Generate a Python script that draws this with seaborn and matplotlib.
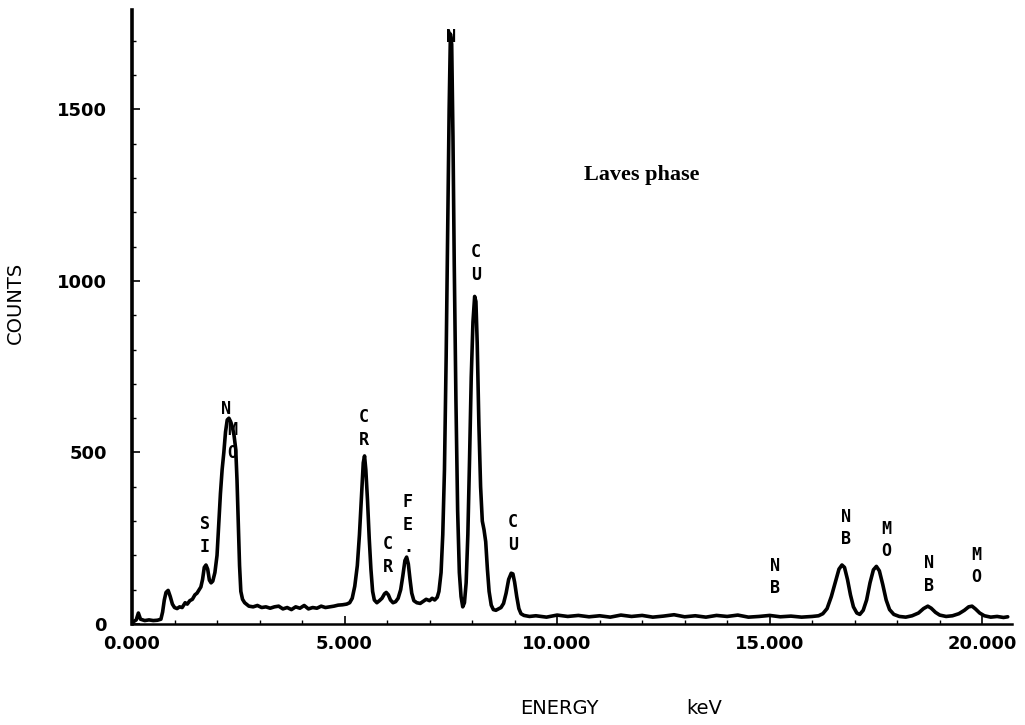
import matplotlib
matplotlib.use("Agg")
import matplotlib.pyplot as plt
from matplotlib.ticker import MultipleLocator
import seaborn as sns
import pandas as pd

# ---- data ----
energy_kev = [
    0.00, 0.05, 0.10, 0.15, 0.20, 0.30, 0.40, 0.50, 0.60, 0.68, 0.72, 0.76, 0.80, 0.85, 0.90, 0.95,
    1.00, 1.06, 1.12, 1.18, 1.25, 1.30, 1.36, 1.42, 1.48, 1.53, 1.58, 1.62, 1.66, 1.70, 1.74, 1.78,
    1.82, 1.86, 1.90, 1.95, 2.00, 2.04, 2.08, 2.12, 2.16, 2.20, 2.24, 2.28, 2.32, 2.36, 2.40, 2.44,
    2.47, 2.50, 2.53, 2.56, 2.60, 2.65, 2.75, 2.85, 2.95, 3.05, 3.15, 3.25, 3.35, 3.45, 3.55, 3.65, 3.75,
    3.85, 3.95, 4.05, 4.15, 4.25, 4.35, 4.45, 4.55, 4.65, 4.75, 4.85, 4.95, 5.05, 5.12, 5.18, 5.24,
    5.30, 5.35, 5.40, 5.44, 5.47, 5.50, 5.54, 5.58, 5.62, 5.66, 5.70, 5.76, 5.82, 5.88, 5.94, 5.98,
    6.03, 6.08, 6.14, 6.20, 6.26, 6.32, 6.37, 6.42, 6.46, 6.50, 6.54, 6.58, 6.63, 6.70, 6.78, 6.85,
    6.92, 7.00, 7.06, 7.12, 7.18, 7.22, 7.27, 7.31, 7.35, 7.39, 7.43, 7.46, 7.49, 7.52, 7.55, 7.58,
    7.62, 7.66, 7.70, 7.74, 7.78, 7.82, 7.86, 7.90, 7.94, 7.98, 8.02, 8.06, 8.09, 8.12, 8.16, 8.20,
    8.24, 8.28, 8.32, 8.36, 8.40, 8.45, 8.50, 8.56, 8.62, 8.68, 8.74, 8.80, 8.86, 8.92, 8.96, 9.00,
    9.05, 9.10, 9.15, 9.22, 9.35, 9.50, 9.75, 10.00, 10.25, 10.50, 10.75, 11.00, 11.25, 11.50, 11.75,
    12.00, 12.25, 12.50, 12.75, 13.00, 13.25, 13.50, 13.75, 14.00, 14.25, 14.50, 14.75, 15.00, 15.25,
    15.50, 15.75, 16.00, 16.15, 16.25, 16.35, 16.45, 16.55, 16.63, 16.70, 16.76, 16.83, 16.90, 16.97,
    17.05, 17.12, 17.20, 17.28, 17.36, 17.44, 17.51, 17.58, 17.66, 17.74, 17.82, 17.92, 18.05, 18.20,
    18.35, 18.50, 18.62, 18.72, 18.80, 18.90, 19.00, 19.15, 19.30, 19.45, 19.58, 19.68, 19.76, 19.84,
    19.94, 20.05, 20.20, 20.35, 20.50, 20.60,
]
counts = [
    5, 8, 12, 32, 14, 10, 12, 10, 11, 14, 35, 70, 92, 98, 80, 58,
    48, 45, 50, 48, 62, 58, 68, 72, 85, 90, 100, 108, 130, 165, 172, 160,
    128, 120, 125, 150, 200, 290, 380, 450, 500, 560, 595, 600, 590, 575, 550, 510,
    420, 300, 170, 95, 72, 62, 52, 50, 54, 48, 50, 46, 50, 52, 44, 48, 42,
    50, 46, 54, 44, 48, 46, 52, 48, 50, 52, 55, 56, 58, 62, 75, 110,
    170, 260, 380, 470, 490, 450, 360, 250, 160, 95, 70, 62, 68, 75, 88, 92,
    85, 70, 62, 65, 75, 100, 140, 185, 195, 175, 130, 90, 68, 62, 60, 66,
    72, 68, 75, 70, 78, 95, 150, 260, 450, 780, 1180, 1500, 1720, 1690, 1420, 1050,
    650, 330, 150, 80, 50, 62, 120, 260, 480, 720, 880, 955, 940, 820, 580, 400,
    300, 275, 240, 160, 95, 55, 42, 40, 44, 48, 60, 90, 130, 148, 146, 122,
    80, 45, 30, 25, 22, 24, 20, 26, 22, 25, 21, 24, 20, 26, 22,
    25, 20, 23, 27, 21, 24, 20, 25, 22, 26, 20, 22, 25, 21,
    23, 20, 22, 24, 30, 45, 80, 125, 160, 172, 165, 130, 85, 50,
    32, 28, 40, 70, 120, 158, 168, 155, 115, 70, 42, 28, 22, 20,
    24, 32, 45, 52, 46, 34, 26, 22, 24, 30, 40, 50, 52, 44,
    32, 24, 20, 22, 19, 21,
]

peak_labels = ["S\nI", "N", "M\nO", "C\nR", "C\nR", "F\nE\n.", "N", "C\nU", "C\nU",
               "N\nB", "N\nB", "M\nO", "N\nB", "M\nO"]
peak_label_x = [1.72, 2.21, 2.36, 5.46, 6.02, 6.49, 7.51, 8.09, 8.96,
                15.13, 16.80, 17.74, 18.75, 19.86]
peak_label_y = [259, 627, 533, 571, 201, 290, 1712, 1052, 265,
                137, 280, 245, 143, 169]

x_ticks = [0, 5, 10, 15, 20]
x_tick_labels = ["0.000", "5.000", "10.000", "15.000", "20.000"]
y_ticks = [0, 500, 1000, 1500]
y_tick_labels = ["0", "500", "1000", "1500"]

df = pd.DataFrame({"energy": energy_kev, "counts": counts})

sns.set_theme(style="ticks")
plt.rcParams["font.family"] = ["DejaVu Sans"]

fig = plt.figure(figsize=(10.25, 7.25), dpi=100)
W, H = 1025, 725
ax = fig.add_axes([132 / W, 1 - 624 / H, (1012 - 132) / W, (624 - 10) / H])

sns.lineplot(data=df, x="energy", y="counts", ax=ax, color="black",
             linewidth=2.6, errorbar=None, sort=False)

ax.set_xlim(0, 20.7)
ax.set_ylim(0, 1790)
sns.despine(ax=ax)
ax.spines["left"].set_linewidth(2.6)
ax.spines["bottom"].set_linewidth(1.8)
ax.spines["left"].set_color("black")
ax.spines["bottom"].set_color("black")

ax.set_xticks(x_ticks)
ax.set_xticklabels(x_tick_labels, fontsize=13, fontweight="bold")
ax.set_yticks(y_ticks)
ax.set_yticklabels(y_tick_labels, fontsize=13, fontweight="bold")
ax.xaxis.set_minor_locator(MultipleLocator(1))
ax.yaxis.set_minor_locator(MultipleLocator(100))
ax.tick_params(axis="both", which="major", direction="in", length=6, width=1.2,
               color="black", labelcolor="black")
ax.tick_params(axis="both", which="minor", direction="in", length=3, width=1.0,
               color="black")
ax.tick_params(axis="x", which="major", pad=8)
ax.tick_params(axis="y", which="major", pad=18)

ax.set_xlabel("")
ax.set_ylabel("COUNTS", fontsize=14, color="black")
ax.yaxis.set_label_coords(-0.122, 0.523)

ax.text(0.486, -0.137, "ENERGY", transform=ax.transAxes, fontsize=14,
        ha="center", va="center", color="black")
ax.text(0.650, -0.137, "keV", transform=ax.transAxes, fontsize=14,
        ha="center", va="center", color="black")

ax.text(0.514, 0.731, "Laves phase", transform=ax.transAxes, fontsize=16,
        fontweight="bold", family="Liberation Serif", ha="left", va="center",
        color="black")

for txt, px, py in zip(peak_labels, peak_label_x, peak_label_y):
    ax.text(px, py, txt, ha="center", va="center", fontsize=12,
            fontweight="bold", family="DejaVu Sans Mono", linespacing=1.35,
            color="black")

fig.savefig("out.png", dpi=100)
